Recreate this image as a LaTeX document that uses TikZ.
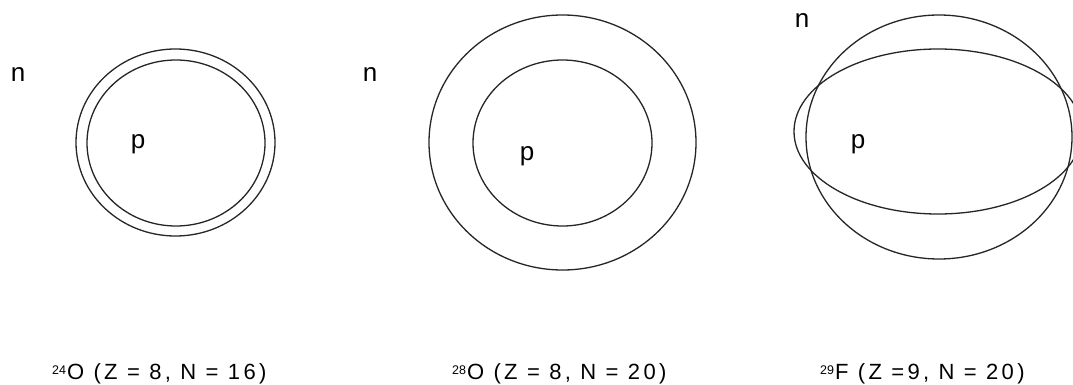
\documentclass[tikz,border=0pt]{standalone}
\usepackage{fontspec}
\setmainfont{Liberation Sans}
\newfontfamily\labfont[LetterSpace=15]{Liberation Sans}
\newcommand{\isosup}[1]{\raisebox{5pt}{\rmfamily\fontsize{12.5}{12.5}\selectfont #1}\hspace{1pt}}
\begin{document}
\begin{tikzpicture}[x=1pt,y=-1pt,
  ring/.style={draw=black!85,line width=1.3pt},
  letter/.style={inner sep=0pt,anchor=base,font=\fontsize{26}{26}\selectfont},
  caption/.style={inner sep=0pt,anchor=base west,font=\labfont\fontsize{22}{22}\selectfont}]
\fill[white] (0,0) rectangle (1073,385);
\useasboundingbox (0,0) rectangle (1073,385);
% panel 1: 24O
\draw[ring] (175.5,142.5) ellipse [x radius=99.5,y radius=93.5];
\draw[ring] (176,143) ellipse [x radius=89,y radius=83];
\node[letter] (n1) at (18,82) {n};
\node[letter] (p1) at (138,148.5) {p};
% panel 2: 28O
\draw[ring] (562.5,142.5) ellipse [x radius=133.5,y radius=127.5];
\draw[ring] (562.5,143) ellipse [x radius=89.5,y radius=83];
\node[letter] (n2) at (370,82) {n};
\node[letter] (p2) at (527,160.5) {p};
% panel 3: 29F
\draw[ring] (939,137) ellipse [x radius=133,y radius=122];
\draw[ring] (938,131.5) ellipse [x radius=144,y radius=82.5];
\node[letter] (n3) at (802,28) {n};
\node[letter] (p3) at (858,148.5) {p};
% captions
\node[caption] (c1) at (52,379) {\isosup{24}O (Z = 8, N = 16)};
\node[caption] (c2) at (452,379) {\isosup{28}O (Z = 8, N = 20)};
\node[caption] (c3) at (820,379) {\isosup{29}F (Z =9, N = 20)};
\end{tikzpicture}
\end{document}
